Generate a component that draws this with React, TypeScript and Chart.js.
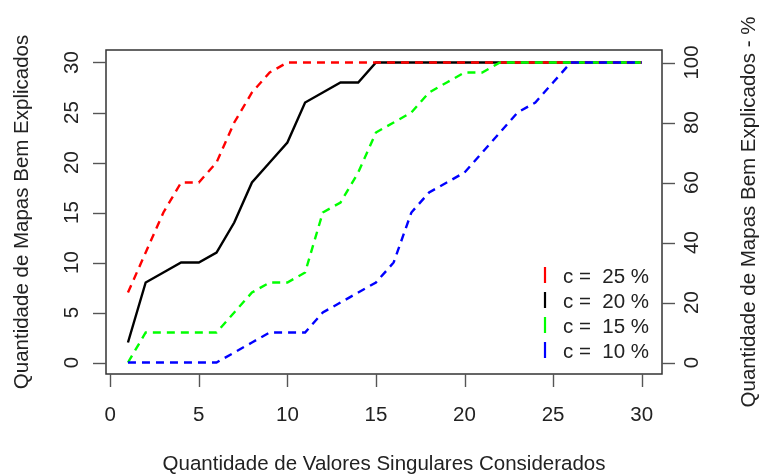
import React, { useEffect, useRef } from "react";
import { Chart, registerables } from "chart.js";

Chart.register(...registerables);

// ---- data ----
const singularValues = [1, 2, 3, 4, 5, 6, 7, 8, 9, 10, 11, 12, 13, 14, 15, 16, 17, 18, 19, 20, 21, 22, 23, 24, 25, 26, 27, 28, 29, 30];
const c25 = [7, 11, 15, 18, 18, 20, 24, 27, 29, 30, 30, 30, 30, 30, 30, 30, 30, 30, 30, 30, 30, 30, 30, 30, 30, 30, 30, 30, 30, 30];
const c20 = [2, 8, 9, 10, 10, 11, 14, 18, 20, 22, 26, 27, 28, 28, 30, 30, 30, 30, 30, 30, 30, 30, 30, 30, 30, 30, 30, 30, 30, 30];
const c15 = [0, 3, 3, 3, 3, 3, 5, 7, 8, 8, 9, 15, 16, 19, 23, 24, 25, 27, 28, 29, 29, 30, 30, 30, 30, 30, 30, 30, 30, 30];
const c10 = [0, 0, 0, 0, 0, 0, 1, 2, 3, 3, 3, 5, 6, 7, 8, 10, 15, 17, 18, 19, 21, 23, 25, 26, 28, 30, 30, 30, 30, 30];

const xTicks = [0, 5, 10, 15, 20, 25, 30];
const yTicks = [0, 5, 10, 15, 20, 25, 30];
const y2Ticks = [0, 20, 40, 60, 80, 100];

const legendLabels = ["c =  25 %", "c =  20 %", "c =  15 %", "c =  10 %"];
const legendColors = ["#ff0000", "#000000", "#00ff00", "#0000ff"];

const xTitle = "Quantidade de Valores Singulares Considerados";
const yTitle = "Quantidade de Mapas Bem Explicados";
const y2Title = "Quantidade de Mapas Bem Explicados - %";

const FS = 20.5;
const FONT = `${FS}px "Liberation Sans", Arial, Helvetica, sans-serif`;

const rAxesPlugin = {
  id: "rAxes",
  afterDraw(chart: any) {
    const { ctx, chartArea: a, scales } = chart;
    const sx = scales.x;
    const sy = scales.y;
    const sy2 = scales.y2;
    ctx.save();
    // box
    ctx.strokeStyle = "#333333";
    ctx.lineWidth = 1.5;
    ctx.strokeRect(a.left, a.top, a.right - a.left, a.bottom - a.top);

    const seg = (x1: number, y1: number, x2: number, y2: number) => {
      ctx.beginPath();
      ctx.moveTo(x1, y1);
      ctx.lineTo(x2, y2);
      ctx.stroke();
    };
    ctx.strokeStyle = "#555555";
    ctx.lineWidth = 1.4;
    xTicks.forEach((v) => {
      const px = Math.round(sx.getPixelForValue(v)) + 0.5;
      seg(px, a.bottom, px, a.bottom + 13);
    });
    yTicks.forEach((v) => {
      const py = Math.round(sy.getPixelForValue(v)) + 0.5;
      seg(a.left - 13, py, a.left, py);
    });
    y2Ticks.forEach((v) => {
      const py = Math.round(sy2.getPixelForValue(v)) + 0.5;
      seg(a.right, py, a.right + 13, py);
    });

    ctx.font = FONT;
    ctx.fillStyle = "#222222";
    ctx.textAlign = "center";
    ctx.textBaseline = "alphabetic";
    xTicks.forEach((v) => {
      ctx.fillText(String(v), sx.getPixelForValue(v), 421);
    });
    const rotText = (t: string, x: number, y: number) => {
      ctx.save();
      ctx.translate(x, y);
      ctx.rotate(-Math.PI / 2);
      ctx.fillText(t, 0, 0);
      ctx.restore();
    };
    yTicks.forEach((v) => rotText(String(v), 78, sy.getPixelForValue(v)));
    y2Ticks.forEach((v) => rotText(String(v), 698, sy2.getPixelForValue(v)));

    const cx = (a.left + a.right) / 2;
    const cy = (a.top + a.bottom) / 2;
    ctx.fillText(xTitle, cx, 470);
    rotText(yTitle, 28, cy);
    rotText(y2Title, 755, cy);

    // legend
    ctx.textAlign = "left";
    legendLabels.forEach((lab, i) => {
      const yc = 275 + i * 25;
      ctx.strokeStyle = legendColors[i];
      ctx.lineWidth = 2.2;
      seg(545, yc - 8, 545, yc + 8);
      ctx.fillStyle = "#222222";
      ctx.fillText(lab, 563, yc + 7.5);
    });
    ctx.restore();
  },
};

export default function App() {
  const ref = useRef<HTMLCanvasElement | null>(null);
  useEffect(() => {
    document.body.style.margin = "0";
    const canvas = ref.current;
    if (!canvas) return;
    const mk = (arr: number[]) => singularValues.map((x, i) => ({ x, y: arr[i] }));
    const chart = new Chart(canvas, {
      type: "line",
      data: {
        datasets: [
          { label: legendLabels[3], data: mk(c10), borderColor: legendColors[3], borderDash: [8, 6], order: 0 },
          { label: legendLabels[2], data: mk(c15), borderColor: legendColors[2], borderDash: [8, 6], order: 1 },
          { label: legendLabels[0], data: mk(c25), borderColor: legendColors[0], borderDash: [8, 6], order: 2 },
          { label: legendLabels[1], data: mk(c20), borderColor: legendColors[1], borderDash: [], order: 3 },
        ].map((d) => ({ ...d, borderWidth: 2.4, pointRadius: 0, tension: 0, fill: false })),
      },
      options: {
        animation: false,
        responsive: false,
        devicePixelRatio: 1,
        layout: { padding: { left: 106, top: 50, right: 98, bottom: 100 } },
        plugins: { legend: { display: false }, tooltip: { enabled: false } },
        scales: {
          x: { type: "linear", display: false, min: -0.24, max: 31.15 },
          y: { type: "linear", display: false, min: -1.15, max: 31.25 },
          y2: { type: "linear", display: false, min: -3.833, max: 104.167 },
        },
      },
      plugins: [rAxesPlugin],
    });
    return () => chart.destroy();
  }, []);
  return (
    <div style={{ position: "absolute", left: 0, top: 0, width: 760, height: 474 }}>
      <canvas ref={ref} width={760} height={474} style={{ width: 760, height: 474 }} />
    </div>
  );
}
